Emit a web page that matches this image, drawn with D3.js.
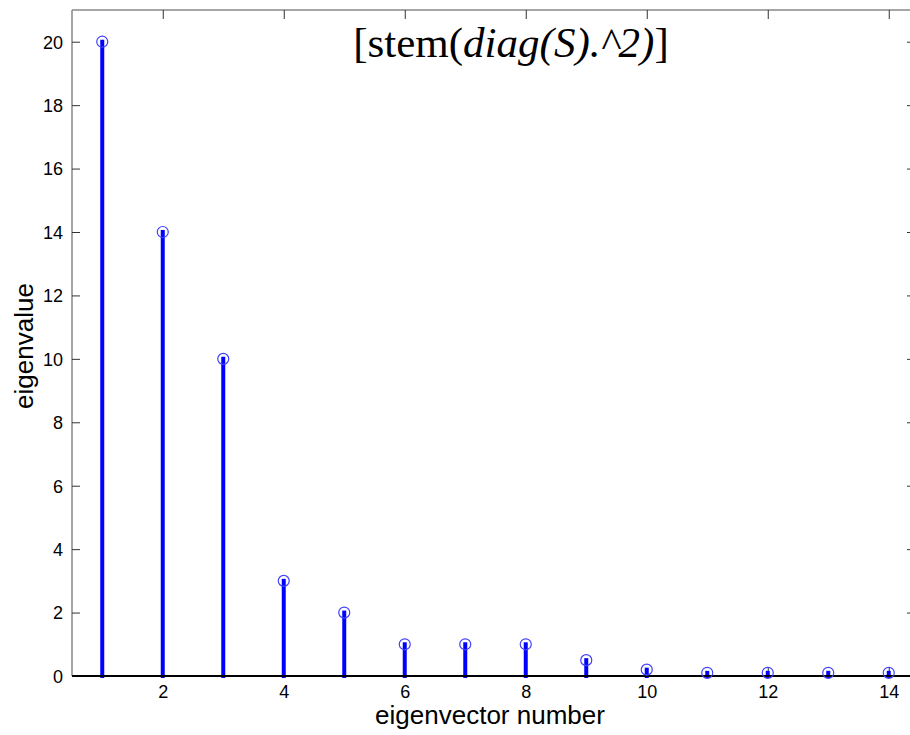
<!DOCTYPE html>
<html>
<head>
<meta charset="utf-8">
<script src="https://cdn.jsdelivr.net/npm/d3@7"></script>
<style>
	body { margin: 0; background: #fff; }
	svg { display: block; }
</style>
</head>
<body>
<svg id="chart" width="910" height="735"></svg>
<script>
var eigIndex = [1, 2, 3, 4, 5, 6, 7, 8, 9, 10, 11, 12, 13, 14],
	eigValues = [20, 14, 10, 3, 2, 1, 1, 1, 0.5, 0.2, 0.1, 0.1, 0.1, 0.1],
	xTicks = [2, 4, 6, 8, 10, 12, 14],
	yTicks = [0, 2, 4, 6, 8, 10, 12, 14, 16, 18, 20],
	xLabel = "eigenvector number",
	yLabel = "eigenvalue";

var plotL = 72, plotR = 919, plotT = 10, plotB = 676;

var svg = d3.select("#chart");

var x = d3.scaleLinear().domain([0.5, 14.5]).range([plotL, plotR]),
	y = d3.scaleLinear().domain([0, 21]).range([plotB, plotT]);

// box lines
svg.append("line").attr("x1", plotL).attr("x2", plotL).attr("y1", plotT).attr("y2", plotB)
	.attr("stroke", "#888").attr("stroke-width", 1.5);
svg.append("line").attr("x1", plotL).attr("x2", plotR).attr("y1", plotT).attr("y2", plotT)
	.attr("stroke", "#888").attr("stroke-width", 1.5);
svg.append("line").attr("x1", plotR).attr("x2", plotR).attr("y1", plotT).attr("y2", plotB)
	.attr("stroke", "#888").attr("stroke-width", 1.5);

// axes (ticks pointing inward)
var xAxis = svg.append("g").attr("transform", "translate(0," + plotB + ")")
	.call(d3.axisBottom(x).tickValues(xTicks).tickSize(-8).tickPadding(9).tickFormat(d3.format("d")));
var xAxisTop = svg.append("g").attr("transform", "translate(0," + plotT + ")")
	.call(d3.axisTop(x).tickValues(xTicks).tickSize(-9).tickFormat(""));
var yAxis = svg.append("g").attr("transform", "translate(" + plotL + ",0)")
	.call(d3.axisLeft(y).tickValues(yTicks).tickSize(-8).tickPadding(9).tickFormat(d3.format("d")));
var yAxisRight = svg.append("g").attr("transform", "translate(" + plotR + ",0)")
	.call(d3.axisRight(y).tickValues(yTicks).tickSize(-12).tickFormat(""));

[xAxis, xAxisTop, yAxis, yAxisRight].forEach(function(g){
	g.select(".domain").remove();
	g.selectAll(".tick line").attr("stroke", "#333").attr("stroke-width", 1);
	g.selectAll(".tick text")
		.attr("font-family", "Arial, 'Liberation Sans', sans-serif")
		.attr("font-size", 18)
		.attr("fill", "#000");
});
svg.selectAll("g").attr("font-size", null).attr("font-family", null);
yAxis.selectAll(".tick text").attr("dy", "0.35em");

// stems
svg.append("g").selectAll("line").data(eigValues).enter().append("line")
	.attr("x1", function(d, i){ return x(eigIndex[i]); })
	.attr("x2", function(d, i){ return x(eigIndex[i]); })
	.attr("y1", y(0))
	.attr("y2", function(d){ return y(d); })
	.attr("stroke", "#0000ff")
	.attr("stroke-width", 4)
	.attr("stroke-linecap", "square");

// baseline
svg.append("line").attr("x1", plotL).attr("x2", plotR).attr("y1", y(0)).attr("y2", y(0))
	.attr("stroke", "#000").attr("stroke-width", 2);

// markers
svg.append("g").selectAll("circle").data(eigValues).enter().append("circle")
	.attr("cx", function(d, i){ return x(eigIndex[i]); })
	.attr("cy", function(d){ return y(d); })
	.attr("r", 5.5)
	.attr("fill", "none")
	.attr("stroke", "#4040ff")
	.attr("stroke-width", 1.2);

// axis labels
svg.append("text")
	.attr("x", 490).attr("y", 724)
	.attr("text-anchor", "middle")
	.attr("font-family", "Arial, 'Liberation Sans', sans-serif")
	.attr("font-size", 26)
	.text(xLabel);
svg.append("text")
	.attr("transform", "translate(33,346) rotate(-90)")
	.attr("text-anchor", "middle")
	.attr("font-family", "Arial, 'Liberation Sans', sans-serif")
	.attr("font-size", 26)
	.text(yLabel);

// title
var title = svg.append("text")
	.attr("x", 511).attr("y", 57)
	.attr("text-anchor", "middle")
	.attr("font-family", "'Times New Roman', 'Liberation Serif', serif")
	.attr("font-size", 43);
title.append("tspan").text("[stem(");
title.append("tspan").attr("font-style", "italic").text("diag(S).^2)");
title.append("tspan").text("]");
</script>
</body>
</html>
